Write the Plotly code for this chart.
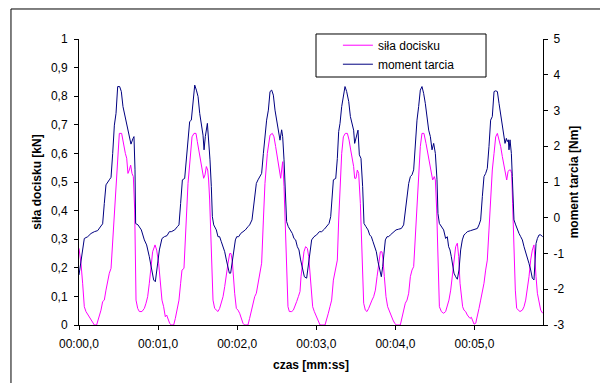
import plotly.graph_objects as go

# ---------------- data ----------------
# time in seconds, moment tarcia in Nm (right axis)
time_moment = [
    0.0, 0.038, 0.067, 0.110, 0.152, 0.194, 0.236, 0.278, 0.299, 0.320, 0.341, 0.383, 0.405, 0.426,
    0.447, 0.468, 0.489, 0.514, 0.535, 0.556, 0.586, 0.615, 0.636, 0.657, 0.683, 0.695, 0.708, 0.716,
    0.746, 0.788, 0.826, 0.855, 0.889, 0.923, 0.944, 0.965, 0.986, 1.016, 1.049, 1.079, 1.113, 1.142,
    1.167, 1.210, 1.243, 1.264, 1.285, 1.307, 1.336, 1.357, 1.378, 1.399, 1.420, 1.441, 1.463, 1.484,
    1.505, 1.526, 1.547, 1.568, 1.581, 1.597, 1.623, 1.639, 1.656, 1.673, 1.686, 1.703, 1.736, 1.757,
    1.778, 1.799, 1.821, 1.842, 1.863, 1.884, 1.901, 1.917, 1.934, 1.956, 1.977, 1.994, 2.019, 2.044,
    2.073, 2.103, 2.136, 2.157, 2.187, 2.212, 2.242, 2.263,
    2.288, 2.309, 2.331, 2.351, 2.372, 2.394, 2.415, 2.436, 2.457, 2.478, 2.499, 2.520, 2.541, 2.562,
    2.575, 2.592, 2.613, 2.625, 2.646, 2.668, 2.697, 2.718, 2.739, 2.760, 2.781, 2.802, 2.828, 2.849,
    2.878, 2.899, 2.920, 2.941, 2.971, 3.004, 3.038, 3.068, 3.102, 3.131, 3.161, 3.182, 3.199, 3.216,
    3.246, 3.266, 3.283, 3.300, 3.321, 3.342, 3.363, 3.384, 3.410, 3.431,
    3.472, 3.485, 3.502, 3.527, 3.544, 3.565, 3.586, 3.603, 3.628, 3.654, 3.675, 3.696, 3.717, 3.738,
    3.759, 3.780, 3.801, 3.822, 3.839, 3.856, 3.873, 3.894, 3.915, 3.936, 3.957, 3.978, 4.008, 4.041,
    4.075, 4.104, 4.125, 4.147, 4.168, 4.189, 4.210, 4.231, 4.252, 4.273, 4.294, 4.315, 4.336, 4.357,
    4.378, 4.400, 4.421, 4.442, 4.463, 4.484, 4.505, 4.526, 4.538, 4.556, 4.581, 4.610,
    4.635, 4.656, 4.673, 4.690, 4.707, 4.724, 4.741, 4.762, 4.783, 4.804, 4.825, 4.846, 4.867, 4.888,
    4.909, 4.951, 4.994, 5.036, 5.057, 5.078, 5.099, 5.120, 5.141, 5.162, 5.183, 5.204, 5.225, 5.247,
    5.268, 5.289, 5.310, 5.331, 5.352, 5.373, 5.386, 5.403, 5.415, 5.428, 5.436, 5.449, 5.466, 5.478,
    5.499, 5.521, 5.542, 5.563, 5.584, 5.605, 5.626, 5.647, 5.668, 5.689, 5.710, 5.731, 5.752, 5.765,
    5.778, 5.795, 5.816, 5.837, 5.862,
]
moment_tarcia = [
    -1.60, -1.09, -0.58, -0.53, -0.44, -0.39, -0.36, -0.23, -0.17, 0.40, 0.92, 1.06, 1.13, 1.80,
    2.59, 2.92, 3.67, 3.67, 3.53, 3.11, 2.78, 2.45, 2.27, 2.06, 2.22, 2.27, 1.34, -0.16,
    -0.20, -0.34, -0.62, -0.76, -1.09, -1.46, -1.74, -1.79, -1.37, -0.90, -0.58, -0.53, -0.50, -0.39,
    -0.39, -0.34, -0.25, -0.20, 0.40, 1.06, 1.10, 1.62, 2.17, 2.69, 2.73, 3.20, 3.71, 3.57,
    3.39, 2.92, 2.59, 2.31, 1.90, 2.27, 2.64, 2.17, 1.62, 0.87, 0.03, -0.20, -0.34, -0.53,
    -0.53, -0.67, -0.81, -0.95, -1.18, -1.41, -1.55, -1.55, -1.27, -0.90, -0.62, -0.53, -0.53, -0.44,
    -0.39, -0.34, -0.25, -0.20, -0.06, 0.40, 0.96, 1.06,
    1.15, 1.24, 1.80, 2.27, 2.73, 3.01, 3.53, 3.57, 3.43, 3.01, 2.73, 2.50, 2.17, 2.46,
    2.27, 1.62, 0.59, -0.11, -0.25, -0.34, -0.44, -0.58, -0.62, -0.81, -0.90, -1.18, -1.46, -1.65,
    -1.69, -1.37, -0.99, -0.62, -0.53, -0.48, -0.39, -0.39, -0.32, -0.25, -0.16, 0.03, 0.59, 1.06,
    1.10, 1.66, 2.41, 2.64, 3.11, 3.43, 3.67, 3.53, 3.25, 2.83,
    2.45, 2.08, 2.27, 2.45, 1.76, 1.66, 0.87, -0.16, -0.25, -0.34, -0.48, -0.53, -0.67, -0.81,
    -0.95, -1.23, -1.46, -1.65, -1.37, -0.90, -0.62, -0.53, -0.53, -0.48, -0.44, -0.39, -0.34, -0.32,
    -0.30, -0.20, 0.22, 0.68, 0.96, 1.15, 1.20, 1.34, 2.08, 2.73, 3.11, 3.57, 3.67, 3.48,
    3.20, 2.73, 2.45, 2.27, 1.90, 2.08, 1.80, 1.06, 0.12, -0.16, -0.25, -0.34,
    -0.58, -0.53, -0.81, -0.90, -1.09, -1.37, -1.55, -1.65, -1.72, -1.46, -0.90, -0.62, -0.48, -0.44,
    -0.39, -0.36, -0.32, -0.30, -0.20, -0.06, 0.59, 1.15, 1.24, 1.38, 1.99, 2.73, 2.83, 3.53,
    3.55, 3.53, 3.20, 2.92, 2.64, 2.27, 2.08, 2.22, 2.13, 2.18, 1.90, 2.18, 1.80, 1.15,
    -0.06, -0.20, -0.34, -0.44, -0.53, -0.62, -0.81, -0.95, -1.09, -1.28, -1.46, -1.69, -1.74, -1.28,
    -0.72, -0.58, -0.48, -0.48, -0.53,
]

# time in seconds, sila docisku in kN (left axis)
time_sila = [
    0.0, 0.025, 0.046, 0.067, 0.088, 0.131, 0.173, 0.194, 0.223, 0.249, 0.278, 0.299, 0.320, 0.341,
    0.362, 0.383, 0.405, 0.426, 0.447, 0.468, 0.489, 0.510, 0.539, 0.560, 0.586, 0.603, 0.619, 0.636,
    0.653, 0.670, 0.687, 0.704, 0.712, 0.721, 0.742, 0.763, 0.796, 0.826, 0.847, 0.868, 0.889, 0.910,
    0.931, 0.961, 0.982, 1.007, 1.028, 1.049, 1.070, 1.091, 1.108,
    1.125, 1.146, 1.167, 1.197, 1.218, 1.243, 1.264, 1.285, 1.302, 1.327, 1.344, 1.361, 1.378, 1.404,
    1.429, 1.454, 1.479, 1.496, 1.517, 1.538, 1.559, 1.576, 1.593, 1.610, 1.627, 1.639, 1.652, 1.665,
    1.677, 1.694, 1.715, 1.736, 1.757, 1.778, 1.799, 1.821, 1.842, 1.863, 1.884, 1.905, 1.922, 1.939,
    1.951, 1.968, 1.989, 2.010, 2.031, 2.052, 2.073, 2.094, 2.136, 2.157, 2.179, 2.200, 2.221, 2.242,
    2.263,
    2.288, 2.309, 2.331, 2.351, 2.381, 2.415, 2.444, 2.465, 2.486, 2.507, 2.529, 2.550, 2.562, 2.575,
    2.592, 2.609, 2.625, 2.642, 2.659, 2.689, 2.710, 2.731, 2.752, 2.773, 2.794, 2.807, 2.823, 2.844,
    2.865, 2.887, 2.904, 2.920, 2.937, 2.954, 2.975, 3.004, 3.026, 3.047, 3.110, 3.131, 3.152, 3.173,
    3.194, 3.216, 3.241, 3.266, 3.283, 3.300, 3.321, 3.342, 3.367, 3.393, 3.414, 3.435,
    3.456, 3.472, 3.485, 3.502, 3.519, 3.536, 3.557, 3.578, 3.599, 3.620, 3.641, 3.662, 3.683, 3.704,
    3.725, 3.747, 3.768, 3.789, 3.810, 3.831, 3.844, 3.860, 3.881, 3.902, 3.923, 3.949, 3.970, 3.991,
    4.012, 4.062, 4.083, 4.104, 4.125, 4.147, 4.168, 4.189, 4.210, 4.231, 4.252, 4.273, 4.294, 4.315,
    4.336, 4.361, 4.387, 4.408, 4.429, 4.450, 4.471, 4.492, 4.505, 4.522, 4.538, 4.556, 4.581, 4.610,
    4.635, 4.656, 4.677, 4.699, 4.720, 4.741, 4.762, 4.783, 4.800, 4.817, 4.834, 4.850, 4.867, 4.888,
    4.909, 4.930, 4.943, 4.960, 4.977, 4.994, 5.015, 5.036, 5.057, 5.078, 5.099, 5.120, 5.141, 5.162,
    5.183, 5.204, 5.225, 5.247, 5.268, 5.289, 5.310, 5.331, 5.352, 5.373, 5.394, 5.407, 5.424, 5.440,
    5.457, 5.470, 5.482, 5.499, 5.516, 5.533, 5.550, 5.575, 5.605, 5.626, 5.647, 5.668, 5.689, 5.710,
    5.731, 5.752, 5.765, 5.778, 5.795, 5.816, 5.837, 5.862,
]
sila_docisku = [
    0.268, 0.216, 0.146, 0.064, 0.047, 0.029, 0.012, 0.0, 0.0, 0.023, 0.052, 0.082, 0.087, 0.122,
    0.157, 0.181, 0.198, 0.286, 0.402, 0.495, 0.565, 0.670, 0.670, 0.635, 0.600, 0.583, 0.530, 0.542,
    0.559, 0.530, 0.519, 0.402, 0.192, 0.087, 0.058, 0.047, 0.047, 0.058, 0.076, 0.099, 0.146, 0.204,
    0.256, 0.280, 0.262, 0.216, 0.146, 0.087, 0.064, 0.029, 0.035,
    0.023, 0.006, 0.0, 0.0, 0.023, 0.058, 0.087, 0.146, 0.192, 0.198, 0.286, 0.402, 0.495, 0.577,
    0.658, 0.670, 0.670, 0.641, 0.606, 0.577, 0.542, 0.513, 0.525, 0.554, 0.542, 0.507, 0.437, 0.309,
    0.192, 0.087, 0.058, 0.052, 0.047, 0.058, 0.076, 0.099, 0.134, 0.181, 0.216, 0.250, 0.250, 0.221,
    0.169, 0.111, 0.058, 0.052, 0.041, 0.023, 0.006, 0.0, 0.0, 0.023, 0.047, 0.070, 0.099, 0.111,
    0.146,
    0.181, 0.216, 0.367, 0.495, 0.600, 0.664, 0.670, 0.658, 0.624, 0.589, 0.554, 0.513, 0.542, 0.571,
    0.484, 0.344, 0.192, 0.064, 0.047, 0.047, 0.052, 0.064, 0.082, 0.099, 0.117, 0.169, 0.204, 0.256,
    0.274, 0.268, 0.239, 0.181, 0.122, 0.064, 0.047, 0.029, 0.012, 0.0, 0.0, 0.017, 0.041, 0.064,
    0.087, 0.157, 0.192, 0.227, 0.367, 0.495, 0.600, 0.658, 0.670, 0.670, 0.647, 0.612,
    0.577, 0.554, 0.513, 0.513, 0.542, 0.530, 0.425, 0.274, 0.076, 0.052, 0.047, 0.058, 0.076, 0.087,
    0.099, 0.122, 0.169, 0.221, 0.256, 0.256, 0.227, 0.169, 0.099, 0.064, 0.047, 0.029, 0.017, 0.006,
    0.0, 0.0, 0.023, 0.052, 0.076, 0.087, 0.111, 0.169, 0.192, 0.204, 0.309, 0.449, 0.542, 0.624,
    0.670, 0.670, 0.635, 0.600, 0.565, 0.530, 0.507, 0.519, 0.507, 0.402, 0.216, 0.064, 0.047, 0.041,
    0.047, 0.064, 0.087, 0.122, 0.169, 0.216, 0.274, 0.286, 0.239, 0.146, 0.087, 0.064, 0.052, 0.047,
    0.035, 0.029, 0.023, 0.027, 0.017, 0.003, 0.006, 0.029, 0.058, 0.087, 0.111, 0.146, 0.192, 0.227,
    0.332, 0.449, 0.542, 0.600, 0.658, 0.670, 0.647, 0.624, 0.589, 0.554, 0.519, 0.507, 0.536, 0.542,
    0.542, 0.530, 0.425, 0.250, 0.122, 0.058, 0.052, 0.047, 0.052, 0.064, 0.087, 0.122, 0.169, 0.227,
    0.262, 0.280, 0.239, 0.169, 0.111, 0.076, 0.052, 0.041,
]

assert len(time_moment) == len(moment_tarcia), (len(time_moment), len(moment_tarcia))
assert len(time_sila) == len(sila_docisku), (len(time_sila), len(sila_docisku))

x_tick_vals = [0, 1, 2, 3, 4, 5]
x_tick_text = ["00:00,0", "00:01,0", "00:02,0", "00:03,0", "00:04,0", "00:05,0"]
left_tick_vals = [0, 0.1, 0.2, 0.3, 0.4, 0.5, 0.6, 0.7, 0.8, 0.9, 1]
left_tick_text = ["0", "0,1", "0,2", "0,3", "0,4", "0,5", "0,6", "0,7", "0,8", "0,9", "1"]
right_tick_vals = [-3, -2, -1, 0, 1, 2, 3, 4, 5]
right_tick_text = ["-3", "-2", "-1", "0", "1", "2", "3", "4", "5"]

X_RANGE = [0, 5.866]
LEFT_RANGE = [0, 1]
RIGHT_RANGE = [-3, 5]

FONT = "Liberation Sans, Arial, sans-serif"

fig = go.Figure()
fig.add_trace(go.Scatter(x=time_sila, y=sila_docisku, mode="lines", name="siła docisku",
                         line=dict(color="#FF00FF", width=1), yaxis="y"))
fig.add_trace(go.Scatter(x=time_moment, y=moment_tarcia, mode="lines", name="moment tarcia",
                         line=dict(color="#000080", width=1), yaxis="y2"))

axis_common = dict(showgrid=False, zeroline=False, linecolor="black", linewidth=1,
                   tickcolor="black", tickwidth=1, ticklen=4,
                   tickfont=dict(family=FONT, size=12, color="black"))

fig.update_layout(
    width=600, height=383,
    margin=dict(l=79, r=57, t=39, b=58, autoexpand=False),
    paper_bgcolor="white", plot_bgcolor="white",
    font=dict(family=FONT, size=12, color="black"),
    showlegend=True,
    legend=dict(x=0.558, y=1.029, xanchor="left", yanchor="top",
                bgcolor="rgba(0,0,0,0)", borderwidth=0,
                font=dict(family=FONT, size=12, color="black"),
                tracegroupgap=0),
    xaxis=dict(range=X_RANGE, tickmode="array", tickvals=x_tick_vals, ticktext=x_tick_text,
               ticks="outside", showline=True, ticklabelstandoff=4,
               title=dict(text="<b>czas [mm:ss]</b>", standoff=10,
                          font=dict(family=FONT, size=12, color="black")),
               automargin=False, **axis_common),
    yaxis=dict(range=LEFT_RANGE, tickmode="array", tickvals=left_tick_vals, ticktext=left_tick_text,
               ticks="outside", showline=True, ticklabelstandoff=4,
               title=dict(text="<b>siła docisku [kN]</b>", standoff=6,
                          font=dict(family=FONT, size=12, color="black")),
               automargin=False, **axis_common),
    yaxis2=dict(range=RIGHT_RANGE, tickmode="array", tickvals=right_tick_vals, ticktext=right_tick_text,
                overlaying="y", side="right", anchor="x",
                ticks="outside", showline=True, ticklabelstandoff=3,
                title=dict(text="<b>moment tarcia [Nm]</b>", standoff=6,
                           font=dict(family=FONT, size=12, color="black")),
                automargin=False, **axis_common),
    # inside halves of the crossing tick marks
    xaxis2=dict(range=X_RANGE, overlaying="x", anchor="y", side="bottom", tickmode="array",
                tickvals=x_tick_vals, ticks="inside", showticklabels=False, showline=False,
                showgrid=False, zeroline=False, tickcolor="black", ticklen=4, tickwidth=1),
    yaxis3=dict(range=LEFT_RANGE, overlaying="y", anchor="x", side="left", tickmode="array",
                tickvals=left_tick_vals, ticks="inside", showticklabels=False, showline=False,
                showgrid=False, zeroline=False, tickcolor="black", ticklen=4, tickwidth=1),
    yaxis4=dict(range=RIGHT_RANGE, overlaying="y", anchor="x", side="right", tickmode="array",
                tickvals=right_tick_vals, ticks="inside", showticklabels=False, showline=False,
                showgrid=False, zeroline=False, tickcolor="black", ticklen=4, tickwidth=1),
    shapes=[
        # outer chart frame
        dict(type="rect", xref="paper", yref="paper", x0=-0.1466, x1=1.127, y0=-0.213, y1=1.1049,
             line=dict(color="black", width=1), fillcolor="rgba(0,0,0,0)", layer="below"),
        # legend box
        dict(type="rect", xref="paper", yref="paper", x0=0.5108, x1=0.8772, y0=0.8671, y1=1.0175,
             line=dict(color="black", width=1), fillcolor="white", layer="above"),
    ],
)

fig.write_html("out.html", config={"displayModeBar": False},
               post_script="document.body.style.margin='0';document.body.style.overflow='hidden';")
